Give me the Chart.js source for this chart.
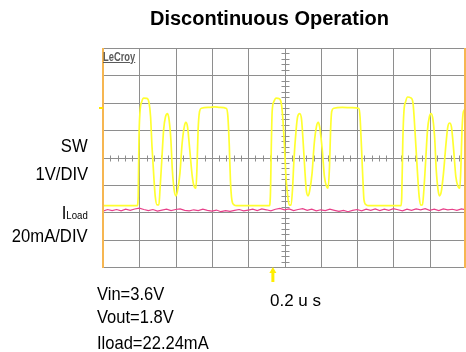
<!DOCTYPE html>
<html><head><meta charset="utf-8">
<script src="https://cdn.jsdelivr.net/npm/chart.js@4"></script>
<style>
html,body{margin:0;padding:0;background:#fff;}
#wrap{position:relative;width:466px;height:352px;overflow:hidden;font-family:"Liberation Sans",Arial,sans-serif;color:#000;}
canvas{position:absolute;left:0;top:0;}
.t{position:absolute;white-space:nowrap;line-height:1;}
.lbl{right:378px;font-size:19px;transform:scaleX(0.875);transform-origin:right center;text-align:right;}
.note{left:97px;font-size:19px;transform:scaleX(0.87);transform-origin:left center;}
</style></head><body>
<div id="wrap">
<canvas id="c" width="466" height="352"></canvas>
<div class="t" style="left:150px;top:8px;font-size:20px;font-weight:bold;">Discontinuous Operation</div>
<div class="t" style="left:103px;top:50px;font-size:13px;font-weight:bold;color:#5a5a5a;text-decoration:underline;transform:scaleX(0.72);transform-origin:left center;">LeCroy</div>
<div class="t lbl" style="top:136px;">SW</div>
<div class="t lbl" style="top:164px;">1V/DIV</div>
<div class="t lbl" style="top:203px;">I<span style="font-size:11px;">Load</span></div>
<div class="t lbl" style="top:226px;">20mA/DIV</div>
<div class="t note" style="top:284px;">Vin=3.6V</div>
<div class="t note" style="top:307px;">Vout=1.8V</div>
<div class="t note" style="top:333px;">Iload=22.24mA</div>
<div class="t" style="left:270px;top:292px;font-size:17px;">0.2 u s</div>
</div>
<script>
// time in divisions (0.2 us/div), level in divisions
const swTime = [
 0,0.94,0.97,0.99,1.02,1.07,1.12,1.21,1.27,1.31,1.35,1.40,1.44,1.49,1.54,1.57,1.62,1.67,1.72,1.78,1.82,1.87,1.91,1.96,2.01,2.05,2.12,2.18,2.24,2.28,2.33,2.39,2.46,2.51,2.56,2.59,2.62,2.66,2.71,2.94,3.08,3.22,3.40,3.44,3.48,3.51,3.55,3.61,3.68,4.55,
 4.58,4.61,4.64,4.66,4.71,4.77,4.86,4.91,4.95,5.00,5.04,5.09,5.13,5.18,5.22,5.26,5.32,5.36,5.42,5.47,5.51,5.56,5.60,5.65,5.69,5.76,5.82,5.88,5.93,5.97,6.04,6.10,6.16,6.20,6.24,6.27,6.30,6.36,6.59,6.86,7.05,7.08,7.12,7.16,7.19,7.25,7.32,8.19,
 8.21,8.23,8.26,8.29,8.34,8.39,8.48,8.54,8.57,8.62,8.67,8.71,8.76,8.80,8.84,8.89,8.94,8.99,9.04,9.09,9.14,9.18,9.23,9.27,9.32,9.38,9.45,9.50,9.55,9.60,9.66,9.72,9.78,9.83,9.86,9.89,9.93,10.0
];
const swLevel = [
 -1.76,-1.76,-1.43,0.65,1.68,2.05,2.17,2.16,1.99,1.50,0.40,-0.70,-1.43,-1.73,-1.73,-1.18,-0.09,1.01,1.48,1.60,1.38,0.65,-0.45,-1.18,-1.40,-1.24,-0.57,0.52,1.13,1.28,1.11,0.28,-0.70,-1.06,-1.12,-0.33,1.01,1.68,1.80,1.83,1.85,1.83,1.79,1.50,0.40,-0.82,-1.55,-1.73,-1.76,-1.76,
 -1.76,-1.43,0.65,1.68,2.05,2.17,2.15,1.99,1.50,0.40,-0.70,-1.43,-1.74,-1.73,-1.18,-0.09,1.01,1.48,1.60,1.38,0.65,-0.45,-1.18,-1.40,-1.24,-0.57,0.52,1.13,1.28,1.11,0.28,-0.70,-1.06,-1.12,-0.33,1.01,1.68,1.80,1.83,1.82,1.79,1.50,0.40,-0.82,-1.55,-1.73,-1.76,-1.76,
 -1.76,-1.43,0.65,1.68,2.05,2.21,2.18,1.99,1.50,0.40,-0.70,-1.43,-1.74,-1.73,-1.18,-0.09,1.01,1.48,1.60,1.38,0.65,-0.45,-1.18,-1.40,-1.24,-0.57,0.52,1.13,1.26,1.11,0.28,-0.70,-1.06,-1.12,-0.33,1.01,1.68,1.76
];
const loadTime = [
 0,0.125,0.25,0.375,0.5,0.625,0.75,0.875,1,1.125,
 1.25,1.375,1.5,1.625,1.75,1.875,2,2.125,2.25,2.375,
 2.5,2.625,2.75,2.875,3,3.125,3.25,3.375,3.5,3.625,
 3.75,3.875,4,4.125,4.25,4.375,4.5,4.625,4.75,4.875,
 5,5.125,5.25,5.375,5.5,5.625,5.75,5.875,6,6.125,
 6.25,6.375,6.5,6.625,6.75,6.875,7,7.125,7.25,7.375,
 7.5,7.625,7.75,7.875,8,8.125,8.25,8.375,8.5,8.625,
 8.75,8.875,9,9.125,9.25,9.375,9.5,9.625,9.75,9.875,
 10
];
const loadLevel = [
 -1.96,-1.90,-1.94,-1.90,-1.95,-1.89,-1.93,-1.88,-1.85,-1.90,
 -1.94,-1.90,-1.96,-1.92,-1.89,-1.94,-1.90,-1.88,-1.93,-1.95,
 -1.91,-1.94,-1.89,-1.93,-1.96,-1.92,-1.98,-1.94,-1.97,-1.93,
 -1.90,-1.95,-1.92,-1.89,-1.94,-1.88,-1.91,-1.95,-1.89,-1.86,
 -1.91,-1.88,-1.94,-1.90,-1.87,-1.93,-1.89,-1.95,-1.91,-1.94,
 -1.89,-1.93,-1.97,-1.93,-1.98,-1.93,-1.90,-1.95,-1.89,-1.93,
 -1.88,-1.94,-1.89,-1.93,-1.87,-1.91,-1.95,-1.89,-1.93,-1.88,
 -1.91,-1.87,-1.93,-1.89,-1.94,-1.88,-1.91,-1.89,-1.93,-1.88,
 -1.91
];
const divX = [0,1,2,3,4,5,6,7,8,9,10];
const divY = [-4,-3,-2,-1,0,1,2,3,4];
const triggerTime = 4.68;
const swMarkerLevel = 1.81;

const scopePlugin = {
  id: 'scope',
  beforeDatasetsDraw(chart) {
    const {ctx, chartArea: a, scales: {x, y}} = chart;
    ctx.save();
    ctx.strokeStyle = '#8e8e8e';
    ctx.lineWidth = 1;
    ctx.beginPath();
    divX.forEach(v => { const px = Math.round(x.getPixelForValue(v)) + 0.5; ctx.moveTo(px, a.top); ctx.lineTo(px, a.bottom); });
    divY.forEach(v => { const py = Math.round(y.getPixelForValue(v)) + 0.5; ctx.moveTo(a.left, py); ctx.lineTo(a.right, py); });
    ctx.stroke();
    const cx = Math.round(x.getPixelForValue(5)) + 0.5;
    const cy = Math.round(y.getPixelForValue(0)) + 0.5;
    ctx.beginPath();
    for (let i = 1; i < 50; i++) {
      if (i % 5 === 0) continue;
      const px = Math.round(x.getPixelForValue(i * 0.2)) + 0.5;
      ctx.moveTo(px, cy - 3); ctx.lineTo(px, cy + 3);
    }
    for (let i = 1; i < 40; i++) {
      if (i % 5 === 0) continue;
      const py = Math.round(y.getPixelForValue(-4 + i * 0.2)) + 0.5;
      ctx.moveTo(cx - 4, py); ctx.lineTo(cx + 4, py);
    }
    ctx.stroke();
    ctx.restore();
  },
  afterDatasetsDraw(chart) {
    const {ctx, chartArea: a, scales: {x, y}} = chart;
    ctx.save();
    ctx.fillStyle = '#f6b651';
    ctx.fillRect(a.left - 1, a.top, 2, a.bottom - a.top + 1);
    ctx.fillRect(a.right - 2, a.top, 2, a.bottom - a.top + 1);
    // SW level marker
    ctx.fillStyle = '#ffe600';
    const my = Math.round(y.getPixelForValue(swMarkerLevel));
    ctx.fillRect(a.left - 4, my - 1, 4, 2);
    // trigger arrow
    const tx = x.getPixelForValue(triggerTime);
    ctx.fillStyle = '#ffee00';
    ctx.fillRect(tx - 1.5, a.bottom + 4, 3, 11);
    ctx.beginPath();
    ctx.moveTo(tx - 3.5, a.bottom + 6);
    ctx.lineTo(tx + 3.5, a.bottom + 6);
    ctx.lineTo(tx, a.bottom);
    ctx.closePath();
    ctx.fill();
    ctx.restore();
  }
};

new Chart(document.getElementById('c'), {
  type: 'line',
  data: {
    datasets: [
      { label: 'SW', data: swTime.map((t, i) => ({x: t, y: swLevel[i]})), borderColor: '#ffff30', borderWidth: 1.7, pointRadius: 0, cubicInterpolationMode: 'monotone', order: 1 },
      { label: 'ILoad', data: loadTime.map((t, i) => ({x: t, y: loadLevel[i]})), borderColor: '#e8408a', borderWidth: 1.2, pointRadius: 0, tension: 0, order: 0 }
    ]
  },
  options: {
    responsive: false,
    animation: false,
    devicePixelRatio: 1,
    events: [],
    layout: { padding: { left: 103, top: 48, right: 0, bottom: 85 } },
    plugins: { legend: { display: false }, tooltip: { enabled: false }, title: { display: false } },
    scales: {
      x: { type: 'linear', min: 0, max: 10, display: false },
      y: { type: 'linear', min: -4, max: 4, display: false }
    }
  },
  plugins: [scopePlugin]
});
</script>
</body></html>
